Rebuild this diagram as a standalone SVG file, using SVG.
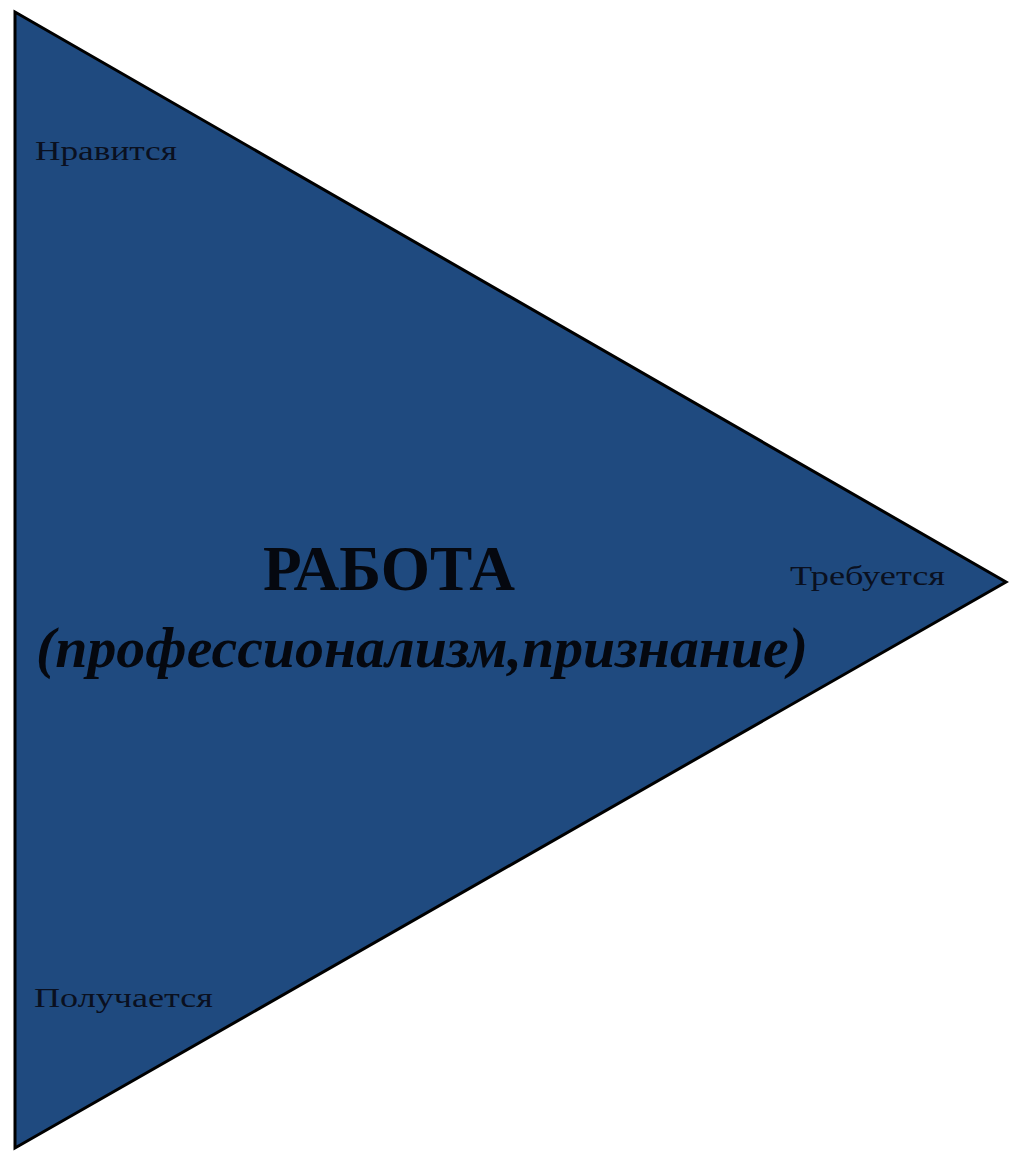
<svg xmlns="http://www.w3.org/2000/svg" width="1009" height="1153" viewBox="0 0 1009 1153">
<style>
.lbl{font-family:"Liberation Serif","Times New Roman",serif;font-size:28px;fill:#0a1020}
.big{font-family:"Liberation Serif","Times New Roman",serif;font-weight:bold;fill:#05080f}
</style>
<rect width="1009" height="1153" fill="#ffffff"/>
<g id="triangle">
<polygon points="15,12 1006,582 15,1148" fill="#1f4a7f" stroke="#000000" stroke-width="3" stroke-linejoin="miter"/>
</g>
<g id="labels">
<text class="lbl" x="35" y="160" textLength="142" lengthAdjust="spacingAndGlyphs">Нравится</text>
<text class="lbl" x="790" y="585" textLength="155" lengthAdjust="spacingAndGlyphs">Требуется</text>
<text class="lbl" x="34" y="1007" textLength="179" lengthAdjust="spacingAndGlyphs">Получается</text>
<text class="big" x="263" y="590" font-size="63" textLength="252" lengthAdjust="spacingAndGlyphs">РАБОТА</text>
<text class="big" x="36" y="667" font-size="58" font-style="italic" textLength="772" lengthAdjust="spacingAndGlyphs">(профессионализм,признание)</text>
</g>
<g id="connectors"></g>
</svg>
